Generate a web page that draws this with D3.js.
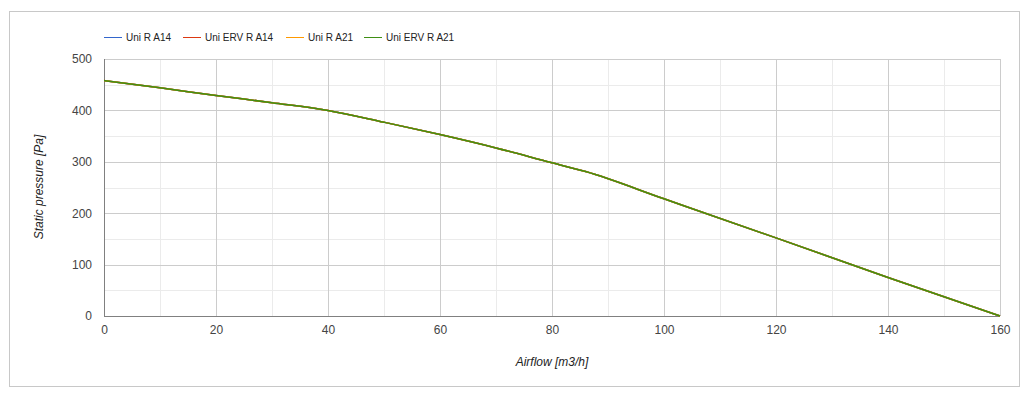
<!DOCTYPE html>
<html>
<head>
<meta charset="utf-8">
<script src="https://cdn.jsdelivr.net/npm/d3@7"></script>
<style>
  body { margin: 0; background: #fff; font-family: Arial, "Liberation Sans", sans-serif; }
</style>
</head>
<body>
<div id="chart"></div>
<script>
// series names and colours
var seriesNames = ["Uni R A14", "Uni ERV R A14", "Uni R A21", "Uni ERV R A21"];
var seriesColors = ["#3366cc", "#dc3912", "#ff9900", "#3f8f14"];

// fan curve, airflow [m3/h] against static pressure [Pa] (all four models share it)
var airflow  = [0, 10, 20, 30, 40, 50, 60, 70, 80, 86, 100, 120, 140, 160];
var pressure = [458, 444, 429, 415, 400, 377, 353, 327, 298, 281, 228, 152, 75, 0];

var xTicks = [0, 20, 40, 60, 80, 100, 120, 140, 160];
var yTicks = [0, 100, 200, 300, 400, 500];

var width = 1027, height = 395;
var margin = {top: 59, right: 27, bottom: 79, left: 104};
var innerW = 1000 - margin.left, innerH = 316 - margin.top;

var svg = d3.select("#chart").append("svg")
    .attr("width", width)
    .attr("height", height);

// outer frame
svg.append("rect")
    .attr("x", 9.5).attr("y", 11.5)
    .attr("width", 1010).attr("height", 375)
    .attr("fill", "#fff")
    .attr("stroke", "#c8c8c8");

var g = svg.append("g")
    .attr("transform", "translate(" + margin.left + "," + margin.top + ")");

var x = d3.scaleLinear().domain([0, 160]).range([0, innerW]);
var y = d3.scaleLinear().domain([0, 500]).range([innerH, 0]);

// minor gridlines
var xMinor = d3.range(10, 160, 20), yMinor = d3.range(50, 500, 100);
g.append("g").selectAll("line").data(xMinor).enter().append("line")
    .attr("x1", function(d) { return Math.round(x(d)) + 0.5; })
    .attr("x2", function(d) { return Math.round(x(d)) + 0.5; })
    .attr("y1", 0).attr("y2", innerH)
    .attr("stroke", "#ebebeb");
g.append("g").selectAll("line").data(yMinor).enter().append("line")
    .attr("y1", function(d) { return Math.round(y(d)) + 0.5; })
    .attr("y2", function(d) { return Math.round(y(d)) + 0.5; })
    .attr("x1", 0).attr("x2", innerW)
    .attr("stroke", "#ebebeb");

// major gridlines
g.append("g").selectAll("line").data(xTicks.slice(1)).enter().append("line")
    .attr("x1", function(d) { return Math.round(x(d)) + 0.5; })
    .attr("x2", function(d) { return Math.round(x(d)) + 0.5; })
    .attr("y1", 0).attr("y2", innerH)
    .attr("stroke", "#cccccc");
g.append("g").selectAll("line").data(yTicks.slice(1)).enter().append("line")
    .attr("y1", function(d) { return Math.round(y(d)) + 0.5; })
    .attr("y2", function(d) { return Math.round(y(d)) + 0.5; })
    .attr("x1", 0).attr("x2", innerW)
    .attr("stroke", "#cccccc");

// axes (labels only, no tick marks)
var xAxis = g.append("g")
    .attr("transform", "translate(0," + innerH + ")")
    .call(d3.axisBottom(x).tickValues(xTicks).tickSize(0).tickPadding(9).tickFormat(d3.format("d")));
var yAxis = g.append("g")
    .call(d3.axisLeft(y).tickValues(yTicks).tickSize(0).tickPadding(12).tickFormat(d3.format("d")));
[xAxis, yAxis].forEach(function(a) {
  a.select(".domain").remove();
  a.selectAll("text")
      .attr("fill", "#444")
      .style("font-size", "12px")
      .style("font-family", "Arial, 'Liberation Sans', sans-serif");
});

// baseline lines
g.append("line")
    .attr("x1", 0.5).attr("x2", 0.5).attr("y1", 0).attr("y2", innerH + 1)
    .attr("stroke", "#808080");
g.append("line")
    .attr("x1", 0).attr("x2", innerW).attr("y1", innerH + 0.5).attr("y2", innerH + 0.5)
    .attr("stroke", "#808080");

// curves
var points = airflow.map(function(a, i) { return [a, pressure[i]]; });
var line = d3.line()
    .x(function(d) { return x(d[0]); })
    .y(function(d) { return y(d[1]); })
    .curve(d3.curveMonotoneX);

g.selectAll(".series").data(seriesNames).enter().append("path")
    .attr("class", "series")
    .attr("d", line(points))
    .attr("fill", "none")
    .attr("stroke", function(d, i) { return seriesColors[i]; })
    .attr("stroke-width", 1.5);

// axis titles
svg.append("text")
    .attr("x", 552).attr("y", 366)
    .attr("text-anchor", "middle")
    .attr("fill", "#222")
    .style("font-size", "12px")
    .style("font-style", "italic")
    .text("Airflow [m3/h]");
svg.append("text")
    .attr("transform", "translate(43,187) rotate(-90)")
    .attr("text-anchor", "middle")
    .attr("fill", "#222")
    .style("font-size", "12px")
    .style("font-style", "italic")
    .text("Static pressure [Pa]");

// legend
var legendX = [104, 183, 286, 364];
var legend = svg.selectAll(".legend").data(seriesNames).enter().append("g")
    .attr("class", "legend")
    .attr("transform", function(d, i) { return "translate(" + legendX[i] + ",37)"; });
legend.append("line")
    .attr("x1", 0).attr("x2", 18).attr("y1", 0.5).attr("y2", 0.5)
    .attr("stroke", function(d, i) { return seriesColors[i]; });
legend.append("text")
    .attr("x", 22).attr("y", 4)
    .attr("fill", "#222")
    .style("font-size", "10px")
    .text(function(d) { return d; });
</script>
</body>
</html>
